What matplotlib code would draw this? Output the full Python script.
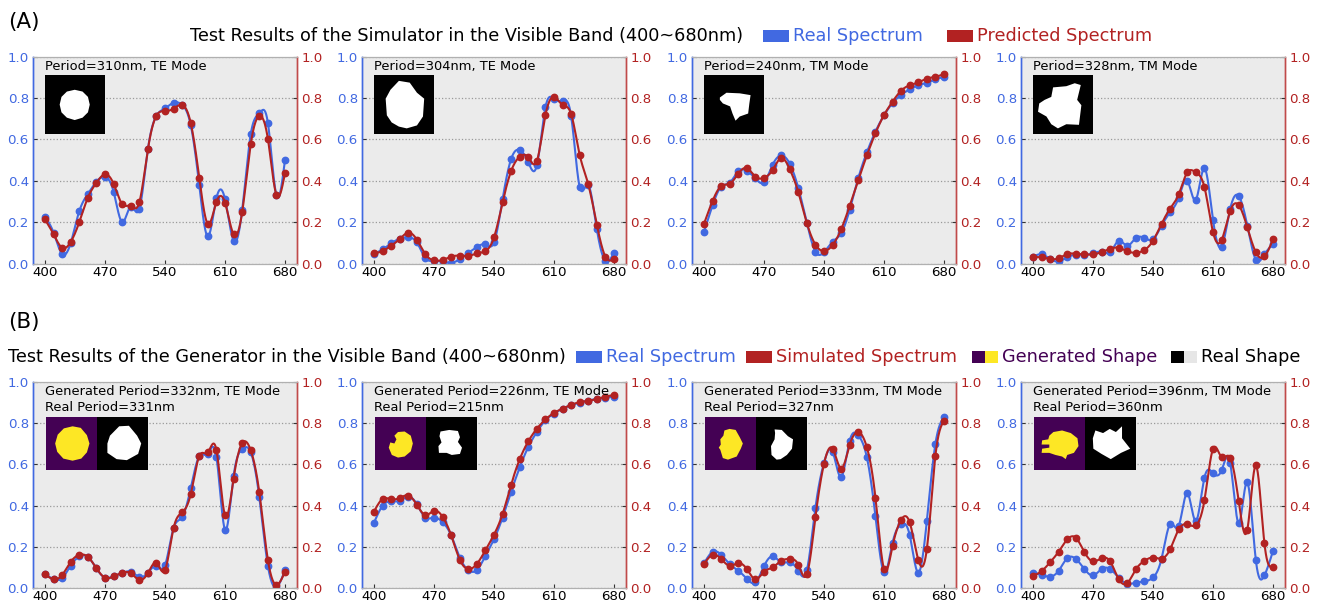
import numpy as np
import matplotlib
matplotlib.use("Agg")
import matplotlib.pyplot as plt
from matplotlib.patches import Polygon, Rectangle

# ---------------------------------------------------------------- data
wavelength = np.arange(400, 681, 10)

# (A) simulator: real vs predicted spectra
a1_real = [0.227, 0.150, 0.047, 0.100, 0.254, 0.337, 0.396, 0.419, 0.348, 0.201,
           0.275, 0.264, 0.552, 0.715, 0.750, 0.778, 0.767, 0.670, 0.378, 0.132,
           0.316, 0.312, 0.111, 0.258, 0.625, 0.726, 0.681, 0.330, 0.502]
a1_pred = [0.214, 0.142, 0.077, 0.105, 0.201, 0.319, 0.391, 0.432, 0.386, 0.288,
           0.279, 0.296, 0.552, 0.715, 0.737, 0.749, 0.767, 0.680, 0.415, 0.192,
           0.298, 0.295, 0.142, 0.248, 0.577, 0.713, 0.604, 0.332, 0.438]

a2_real = [0.048, 0.069, 0.098, 0.121, 0.127, 0.103, 0.027, 0.014, 0.010, 0.005,
           0.021, 0.052, 0.080, 0.093, 0.103, 0.311, 0.506, 0.549, 0.490, 0.475,
           0.755, 0.797, 0.786, 0.713, 0.370, 0.380, 0.166, 0.014, 0.053]
a2_pred = [0.050, 0.061, 0.087, 0.119, 0.150, 0.116, 0.045, 0.016, 0.018, 0.034,
           0.039, 0.037, 0.050, 0.061, 0.127, 0.296, 0.448, 0.517, 0.514, 0.496,
           0.718, 0.805, 0.767, 0.723, 0.525, 0.383, 0.188, 0.034, 0.021]

a3_real = [0.153, 0.282, 0.372, 0.391, 0.446, 0.448, 0.412, 0.393, 0.477, 0.523,
           0.483, 0.366, 0.198, 0.058, 0.056, 0.106, 0.147, 0.261, 0.414, 0.538,
           0.638, 0.717, 0.776, 0.816, 0.842, 0.862, 0.874, 0.890, 0.903]
a3_pred = [0.193, 0.303, 0.375, 0.386, 0.435, 0.462, 0.420, 0.415, 0.452, 0.510,
           0.457, 0.346, 0.196, 0.092, 0.061, 0.090, 0.166, 0.280, 0.404, 0.523,
           0.630, 0.718, 0.783, 0.836, 0.862, 0.876, 0.894, 0.903, 0.916]

a4_real = [0.034, 0.045, 0.023, 0.011, 0.031, 0.043, 0.043, 0.050, 0.058, 0.056,
           0.110, 0.087, 0.124, 0.124, 0.118, 0.184, 0.248, 0.319, 0.401, 0.309,
           0.461, 0.213, 0.082, 0.264, 0.327, 0.184, 0.019, 0.045, 0.095]
a4_pred = [0.031, 0.031, 0.023, 0.026, 0.047, 0.048, 0.045, 0.045, 0.056, 0.072,
           0.077, 0.060, 0.053, 0.066, 0.111, 0.193, 0.266, 0.335, 0.441, 0.441,
           0.370, 0.153, 0.114, 0.254, 0.283, 0.176, 0.055, 0.035, 0.119]

# (B) generator: real vs simulated spectra
b1_real = [0.068, 0.043, 0.048, 0.109, 0.153, 0.151, 0.095, 0.050, 0.058, 0.071,
           0.080, 0.053, 0.074, 0.108, 0.111, 0.291, 0.344, 0.484, 0.640, 0.651,
           0.637, 0.283, 0.543, 0.674, 0.659, 0.442, 0.109, 0.005, 0.088]
b1_sim = [0.068, 0.042, 0.063, 0.127, 0.161, 0.151, 0.096, 0.050, 0.056, 0.074,
          0.072, 0.039, 0.072, 0.121, 0.087, 0.291, 0.367, 0.455, 0.641, 0.658,
          0.669, 0.352, 0.531, 0.703, 0.669, 0.465, 0.137, 0.016, 0.080]

b2_real = [0.317, 0.399, 0.421, 0.423, 0.444, 0.407, 0.342, 0.342, 0.320, 0.256,
           0.148, 0.087, 0.087, 0.156, 0.236, 0.342, 0.468, 0.585, 0.685, 0.757,
           0.814, 0.847, 0.870, 0.887, 0.900, 0.910, 0.918, 0.924, 0.929]
b2_sim = [0.371, 0.432, 0.431, 0.437, 0.449, 0.404, 0.354, 0.375, 0.346, 0.256,
          0.138, 0.092, 0.117, 0.183, 0.259, 0.359, 0.502, 0.625, 0.712, 0.773,
          0.818, 0.850, 0.871, 0.889, 0.902, 0.908, 0.918, 0.929, 0.937]

b3_real = [0.119, 0.175, 0.162, 0.116, 0.084, 0.045, 0.027, 0.106, 0.154, 0.125,
           0.125, 0.084, 0.087, 0.389, 0.608, 0.662, 0.539, 0.715, 0.741, 0.635,
           0.349, 0.077, 0.220, 0.310, 0.256, 0.074, 0.326, 0.701, 0.831]
b3_sim = [0.116, 0.161, 0.141, 0.108, 0.121, 0.092, 0.042, 0.079, 0.100, 0.132,
          0.141, 0.113, 0.066, 0.344, 0.603, 0.677, 0.580, 0.695, 0.757, 0.683,
          0.439, 0.093, 0.204, 0.331, 0.318, 0.137, 0.190, 0.643, 0.812]

b4_real = [0.074, 0.063, 0.055, 0.084, 0.145, 0.141, 0.092, 0.061, 0.092, 0.092,
           0.050, 0.021, 0.026, 0.032, 0.051, 0.143, 0.310, 0.301, 0.460, 0.325,
           0.535, 0.558, 0.571, 0.608, 0.315, 0.513, 0.135, 0.061, 0.180]
b4_sim = [0.058, 0.082, 0.125, 0.177, 0.236, 0.244, 0.174, 0.129, 0.145, 0.129,
          0.043, 0.024, 0.090, 0.132, 0.148, 0.143, 0.188, 0.285, 0.309, 0.305,
          0.426, 0.675, 0.635, 0.633, 0.421, 0.283, 0.595, 0.217, 0.103]

a_labels = ["Period=310nm, TE Mode", "Period=304nm, TE Mode",
            "Period=240nm, TM Mode", "Period=328nm, TM Mode"]
b_labels = ["Generated Period=332nm, TE Mode\nReal Period=331nm",
            "Generated Period=226nm, TE Mode\nReal Period=215nm",
            "Generated Period=333nm, TM Mode\nReal Period=327nm",
            "Generated Period=396nm, TM Mode\nReal Period=360nm"]

# unit-cell outlines (x, y) in a unit square, y pointing down
a_shapes = [
    [(0.75, 0.50), (0.72, 0.37), (0.63, 0.28), (0.50, 0.25), (0.37, 0.28), (0.28, 0.37),
     (0.25, 0.50), (0.28, 0.63), (0.37, 0.72), (0.50, 0.76), (0.63, 0.72), (0.72, 0.63)],
    [(0.42, 0.10), (0.60, 0.13), (0.72, 0.30), (0.84, 0.40), (0.82, 0.70), (0.72, 0.85),
     (0.55, 0.90), (0.42, 0.87), (0.30, 0.80), (0.22, 0.68), (0.20, 0.40), (0.28, 0.25)],
    [(0.27, 0.38), (0.38, 0.30), (0.60, 0.31), (0.78, 0.34), (0.76, 0.48), (0.74, 0.65),
     (0.60, 0.70), (0.53, 0.77), (0.48, 0.65), (0.44, 0.53), (0.32, 0.48), (0.27, 0.42)],
    [(0.34, 0.21), (0.56, 0.19), (0.70, 0.14), (0.80, 0.17), (0.74, 0.42), (0.81, 0.51),
     (0.77, 0.84), (0.56, 0.83), (0.42, 0.90), (0.31, 0.83), (0.23, 0.70), (0.09, 0.62),
     (0.11, 0.48), (0.20, 0.42), (0.31, 0.37)],
]
b_gen_shapes = [
    [(0.85, 0.50), (0.80, 0.34), (0.68, 0.20), (0.52, 0.17), (0.35, 0.21), (0.23, 0.33),
     (0.18, 0.50), (0.22, 0.66), (0.34, 0.79), (0.52, 0.83), (0.69, 0.79), (0.80, 0.67)],
    [(0.45, 0.28), (0.58, 0.27), (0.70, 0.35), (0.74, 0.50), (0.70, 0.65), (0.58, 0.75),
     (0.45, 0.77), (0.33, 0.72), (0.27, 0.58), (0.30, 0.48), (0.38, 0.50), (0.42, 0.42),
     (0.38, 0.35)],
    [(0.48, 0.22), (0.60, 0.24), (0.68, 0.38), (0.74, 0.50), (0.70, 0.60), (0.62, 0.75),
     (0.45, 0.81), (0.35, 0.78), (0.30, 0.62), (0.27, 0.58), (0.31, 0.52), (0.30, 0.42),
     (0.36, 0.35), (0.38, 0.25)],
    [(0.38, 0.28), (0.55, 0.25), (0.72, 0.30), (0.85, 0.40), (0.87, 0.55), (0.78, 0.68),
     (0.65, 0.72), (0.62, 0.80), (0.55, 0.75), (0.42, 0.72), (0.30, 0.68), (0.15, 0.68),
     (0.16, 0.60), (0.30, 0.58), (0.30, 0.52), (0.15, 0.52), (0.16, 0.44), (0.28, 0.42),
     (0.30, 0.35)],
]
b_real_shapes = [
    [(0.43, 0.17), (0.62, 0.16), (0.78, 0.35), (0.86, 0.50), (0.80, 0.70), (0.58, 0.82),
     (0.38, 0.80), (0.20, 0.68), (0.20, 0.50), (0.25, 0.35)],
    [(0.28, 0.27), (0.45, 0.24), (0.62, 0.26), (0.66, 0.38), (0.62, 0.47), (0.70, 0.58),
     (0.66, 0.70), (0.50, 0.72), (0.40, 0.68), (0.25, 0.68), (0.24, 0.55), (0.30, 0.48),
     (0.26, 0.36)],
    [(0.36, 0.23), (0.50, 0.24), (0.62, 0.36), (0.72, 0.42), (0.70, 0.60), (0.60, 0.72),
     (0.48, 0.80), (0.40, 0.81), (0.30, 0.72), (0.29, 0.55), (0.36, 0.42), (0.37, 0.30)],
    [(0.20, 0.25), (0.35, 0.30), (0.48, 0.22), (0.60, 0.28), (0.72, 0.17), (0.72, 0.40),
     (0.88, 0.60), (0.70, 0.68), (0.50, 0.80), (0.32, 0.70), (0.16, 0.60), (0.15, 0.40)],
]

BLUE = "#4169e1"
RED = "#b22222"
PURPLE = "#440154"
YELLOW = "#fde725"
BG = "#ebebeb"


def cubic_spline(x, y, xs):
    """Natural cubic spline through (x, y), evaluated at xs."""
    x = np.asarray(x, float)
    y = np.asarray(y, float)
    n = len(x)
    h = np.diff(x)
    A = np.zeros((n, n))
    r = np.zeros(n)
    A[0, 0] = A[-1, -1] = 1.0
    for i in range(1, n - 1):
        A[i, i - 1] = h[i - 1]
        A[i, i] = 2 * (h[i - 1] + h[i])
        A[i, i + 1] = h[i]
        r[i] = 3 * ((y[i + 1] - y[i]) / h[i] - (y[i] - y[i - 1]) / h[i - 1])
    c = np.linalg.solve(A, r)
    b = (y[1:] - y[:-1]) / h - h * (2 * c[:-1] + c[1:]) / 3
    d = (c[1:] - c[:-1]) / (3 * h)
    idx = np.clip(np.searchsorted(x, xs, side="right") - 1, 0, n - 2)
    dx = xs - x[idx]
    return y[idx] + b[idx] * dx + c[idx] * dx ** 2 + d[idx] * dx ** 3


fig = plt.figure(figsize=(13.2, 6.03), dpi=100)
W, H = 1320.0, 603.0

lefts = [33, 362, 692, 1021]
ax_w = 264
rows = [(56.7, 263.7), (382.0, 588.0)]

xs_fine = np.linspace(400, 680, 600)


def style_panel(ax, ax2):
    ax.set_facecolor(BG)
    ax2.patch.set_visible(False)
    for a in (ax, ax2):
        a.set_ylim(0, 1.0)
        a.set_xticks([400, 470, 540, 610, 680])
        a.set_yticks([0.0, 0.2, 0.4, 0.6, 0.8, 1.0])
        a.set_yticklabels(["0.0", "0.2", "0.4", "0.6", "0.8", "1.0"])
        for s in ("top", "bottom"):
            a.spines[s].set_color("#b0b0b0")
            a.spines[s].set_linewidth(0.8)
        a.spines["left"].set_color(BLUE)
        a.spines["right"].set_color("#c04a4a")
        a.spines["left"].set_linewidth(1.0)
        a.spines["right"].set_linewidth(1.0)
    ax.tick_params(axis="y", colors=BLUE, labelsize=9.6, length=3, direction="in",
                   pad=3)
    ax.tick_params(axis="y", color="#333333")
    ax2.tick_params(axis="y", colors=RED, labelsize=9.6, length=3, direction="in",
                    pad=3)
    ax2.tick_params(axis="y", color="#333333")
    ax.tick_params(axis="x", labelsize=9.6, length=3, direction="in", color="#333333",
                   pad=1.5)
    ax.set_axisbelow(True)
    ax.yaxis.grid(True, linestyle=":", color="#9a9a9a", linewidth=0.9)


def draw_shape(parent, rect, verts, bg, fg):
    ins = parent.inset_axes(rect)
    ins.set_facecolor(bg)
    ins.set_xlim(0, 1)
    ins.set_ylim(1, 0)
    ins.set_xticks([])
    ins.set_yticks([])
    for s in ins.spines.values():
        s.set_visible(False)
    ins.add_patch(Polygon(verts, closed=True, facecolor=fg, edgecolor="none"))


panels_a = [(a1_real, a1_pred), (a2_real, a2_pred), (a3_real, a3_pred), (a4_real, a4_pred)]
panels_b = [(b1_real, b1_sim), (b2_real, b2_sim), (b3_real, b3_sim), (b4_real, b4_sim)]

for row, panels in enumerate([panels_a, panels_b]):
    top, bot = rows[row]
    for k, (real, other) in enumerate(panels):
        ax = fig.add_axes([lefts[k] / W, 1 - bot / H, ax_w / W, (bot - top) / H])
        ax2 = ax.twinx()
        ax.plot(xs_fine, cubic_spline(wavelength, real, xs_fine), color=BLUE, lw=1.5)
        ax.plot(wavelength, real, "o", color=BLUE, ms=4.6)
        ax2.plot(xs_fine, cubic_spline(wavelength, other, xs_fine), color=RED, lw=1.5)
        ax2.plot(wavelength, other, "o", color=RED, ms=4.6)
        style_panel(ax, ax2)
        ax2.set_xlim(ax.get_xlim())
        if row == 0:
            ax2.text(0.044, 0.952, a_labels[k], transform=ax.transAxes,
                     fontsize=9.4, va="center", ha="left")
            draw_shape(ax2, [0.044, 0.625, 0.228, 0.287], a_shapes[k], "black", "white")
        else:
            ax2.text(0.046, 0.985, b_labels[k], transform=ax.transAxes,
                     fontsize=9.4, va="top", ha="left", linespacing=1.25)
            draw_shape(ax2, [0.049, 0.575, 0.194, 0.253], b_gen_shapes[k], PURPLE, YELLOW)
            draw_shape(ax2, [0.243, 0.575, 0.194, 0.253], b_real_shapes[k], "black", "white")

# ---------------------------------------------------------------- headers
renderer = fig.canvas.get_renderer()
HDR = 12.7


def header(x0, yc, title, items, first_gap):
    t = fig.text(x0 / W, 1 - yc / H, title, fontsize=HDR, va="center", ha="left")
    x = t.get_window_extent(renderer).x1 + first_gap
    rh, rw = 12.6, 26.0
    for colors, label, tcolor, gap in items:
        seg = rw / len(colors)
        for j, col in enumerate(colors):
            fig.patches.append(Rectangle(((x + j * seg) / W, 1 - (yc + rh / 2) / H),
                                         seg / W, rh / H, transform=fig.transFigure,
                                         facecolor=col, edgecolor="none"))
        x += rw + 4
        tt = fig.text(x / W, 1 - yc / H, label, fontsize=HDR, va="center", ha="left",
                      color=tcolor)
        x = tt.get_window_extent(renderer).x1 + gap


fig.text(8 / W, 1 - 22 / H, "(A)", fontsize=15.5, va="center", ha="left")
fig.text(8 / W, 1 - 322 / H, "(B)", fontsize=15.5, va="center", ha="left")

header(190, 36, "Test Results of the Simulator in the Visible Band (400~680nm)",
       [([BLUE], "Real Spectrum", BLUE, 24),
        ([RED], "Predicted Spectrum", RED, 12)], 20)
header(8, 357, "Test Results of the Generator in the Visible Band (400~680nm)",
       [([BLUE], "Real Spectrum", BLUE, 10),
        ([RED], "Simulated Spectrum", RED, 15),
        ([PURPLE, YELLOW], "Generated Shape", PURPLE, 14),
        (["black", "#e6e6e6"], "Real Shape", "black", 10)], 10)

fig.savefig("out.png", dpi=100)
